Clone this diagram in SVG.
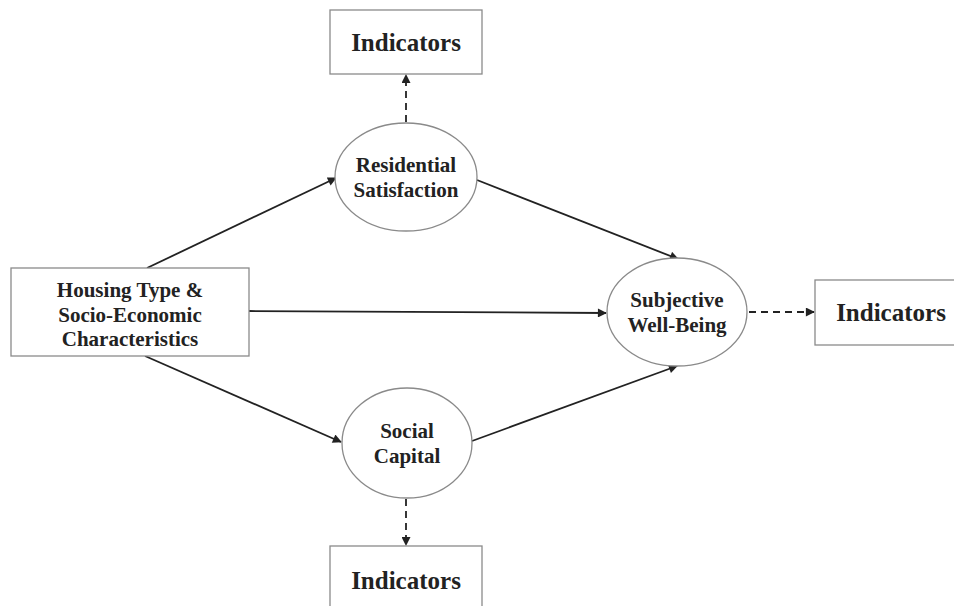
<svg xmlns="http://www.w3.org/2000/svg" width="954" height="606" viewBox="0 0 954 606">
<style>
.box{fill:#fff;stroke:#8a8a8a;stroke-width:1.3}
.ell{fill:#fff;stroke:#8a8a8a;stroke-width:1.3}
.t{font-family:"Liberation Serif","Times New Roman",serif;font-weight:bold;font-size:21px;fill:#222;text-anchor:middle}
.big{font-size:25px}
.c{stroke:#222;stroke-width:1.8;fill:none;marker-end:url(#ah)}
.d{stroke-dasharray:7 5}
</style>
<defs>
<marker id="ah" viewBox="0 0 10 10" refX="9" refY="5" markerWidth="11" markerHeight="9" markerUnits="userSpaceOnUse" orient="auto">
<path d="M0,0 L10,5 L0,10 z" fill="#222"/>
</marker>
</defs>
<rect width="954" height="606" fill="#fff"/>
<g id="connectors">
<line class="c" x1="147" y1="268" x2="336" y2="178"/>
<line class="c" x1="249" y1="311" x2="606" y2="313"/>
<line class="c" x1="145" y1="356" x2="341" y2="442"/>
<line class="c" x1="477" y1="180" x2="678" y2="259"/>
<line class="c" x1="472" y1="441" x2="677" y2="366"/>
<line class="c d" x1="406" y1="122" x2="406" y2="75"/>
<line class="c d" x1="749" y1="312" x2="814" y2="312"/>
<line class="c d" x1="406" y1="499" x2="406" y2="545"/>
</g>
<g id="ind-top">
<rect class="box" x="330" y="10" width="152" height="64"/>
<text class="t big" x="406" y="51">Indicators</text>
</g>
<g id="residential">
<ellipse class="ell" cx="406" cy="177" rx="71" ry="54"/>
<text class="t" x="406" y="172" font-size="20">Residential</text>
<text class="t" x="406" y="197" font-size="20">Satisfaction</text>
</g>
<g id="housing">
<rect class="box" x="11" y="268" width="238" height="88"/>
<text class="t" x="130" y="297">Housing Type &amp;</text>
<text class="t" x="130" y="322">Socio-Economic</text>
<text class="t" x="130" y="346">Characteristics</text>
</g>
<g id="subjective">
<ellipse class="ell" cx="677" cy="312" rx="70" ry="54"/>
<text class="t" x="677" y="307" font-size="22">Subjective</text>
<text class="t" x="677" y="332" font-size="22">Well-Being</text>
</g>
<g id="ind-right">
<rect class="box" x="815" y="280" width="145" height="65"/>
<text class="t big" x="891" y="321">Indicators</text>
</g>
<g id="social">
<ellipse class="ell" cx="407" cy="443" rx="65" ry="55"/>
<text class="t" x="407" y="438">Social</text>
<text class="t" x="407" y="463">Capital</text>
</g>
<g id="ind-bottom">
<rect class="box" x="330" y="546" width="152" height="70"/>
<text class="t big" x="406" y="589">Indicators</text>
</g>
</svg>
